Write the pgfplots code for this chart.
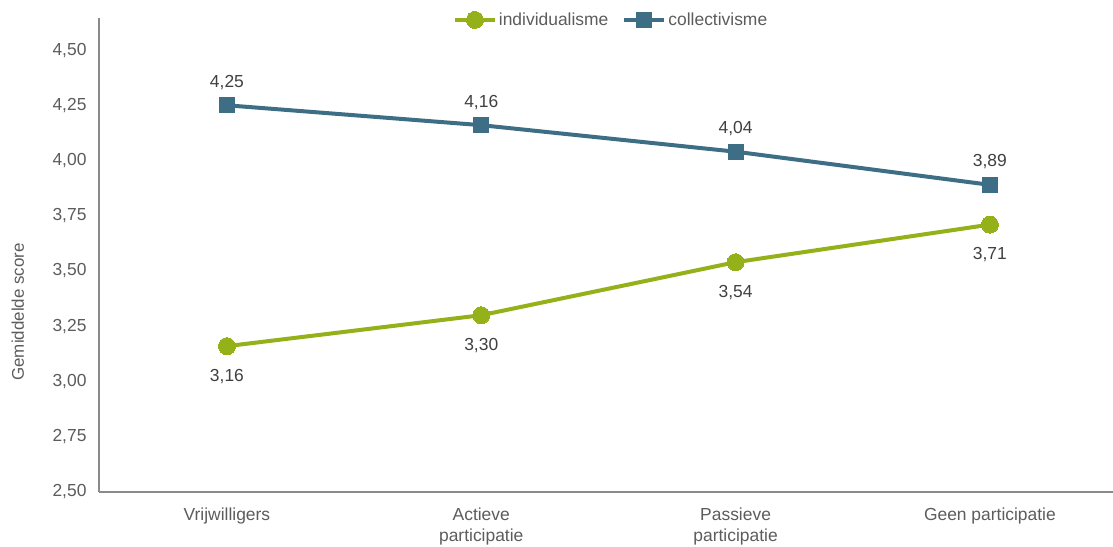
\documentclass[border=0pt]{standalone}
\usepackage{fontspec}
\setmainfont{Liberation Sans}
\usepackage{pgfplots}
\pgfplotsset{compat=1.18}

\definecolor{indgreen}{HTML}{95B11A}
\definecolor{colblue}{HTML}{3D6E85}
\definecolor{axisgray}{HTML}{8A8A8A}
\definecolor{txtgray}{HTML}{5C5C5C}
\definecolor{lblgray}{HTML}{404040}

\begin{document}
\begin{tikzpicture}
\begin{axis}[
  at={(99bp,55bp)}, anchor=south west,
  scale only axis,
  width=1014bp, height=474bp,
  xmin=-0.503, xmax=3.484,
  ymin=2.5, ymax=4.645,
  axis lines=left,
  axis line style={-, axisgray, line width=1.6bp},
  xtick={0,1,2,3},
  xticklabels={Vrijwilligers, {Actieve\\participatie}, {Passieve\\participatie}, Geen participatie},
  xticklabel style={align=center, font=\fontsize{17.5}{21}\selectfont, text=txtgray, yshift=-12bp},
  ytick={2.5,2.75,3,3.25,3.5,3.75,4,4.25,4.5},
  yticklabel style={font=\fontsize{17.5}{20}\selectfont, text=txtgray, xshift=-9bp},
  major tick length=0pt,
  /pgf/number format/.cd, use comma, fixed, fixed zerofill, precision=2, assume math mode=true,
  /pgfplots/.cd,
  ylabel={Gemiddelde score},
  ylabel style={at={(axis description cs:-0.08,0.38)}, anchor=center, rotate=0,
                font=\fontsize{17}{20}\selectfont, text=txtgray},
  legend columns=2,
  legend style={at={(0.505,0.996)}, anchor=center, draw=none, fill=none,
                font=\fontsize{17.5}{20}\selectfont, text=txtgray,
                /tikz/every even column/.append style={column sep=12bp}},
  legend image code/.code={\draw[mark repeat=2, mark phase=2]
      plot coordinates {(0bp,0bp) (20bp,0bp) (40bp,0bp)};},
  nodes near coords,
  nodes near coords style={font=\fontsize{17.5}{20}\selectfont, text=lblgray, anchor=center},
  clip=false,
]
% individualisme: labels below the points
\addplot[indgreen, line width=4bp, mark=*, mark size=8.5bp,
         mark options={line width=0bp},
         every node near coord/.append style={yshift=-30bp}]
  coordinates {(0,3.16) (1,3.30) (2,3.54) (3,3.71)};
\addlegendentry{individualisme}
% collectivisme: labels above the points
\addplot[colblue, line width=4bp, mark=square*, mark size=7.5bp,
         mark options={line width=0bp},
         every node near coord/.append style={yshift=23bp}]
  coordinates {(0,4.25) (1,4.16) (2,4.04) (3,3.89)};
\addlegendentry{collectivisme}
\end{axis}
\pgfresetboundingbox
\path (0bp,0bp) rectangle (1113bp,547bp);
\end{tikzpicture}
\end{document}
